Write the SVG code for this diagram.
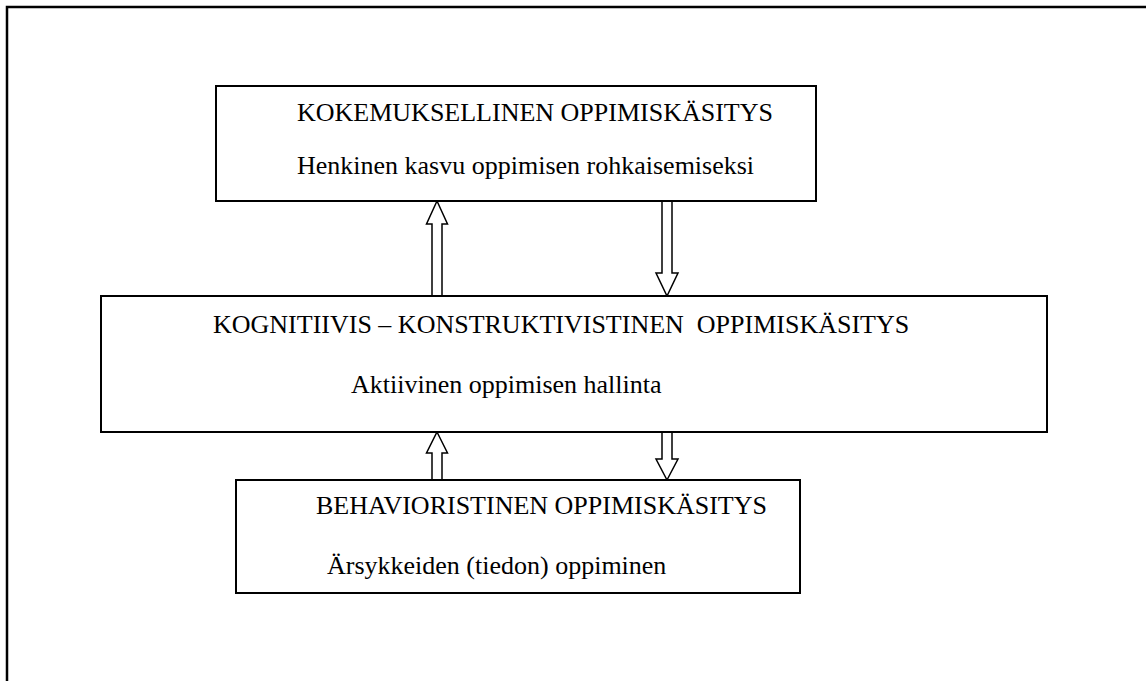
<svg xmlns="http://www.w3.org/2000/svg" width="1146" height="681" viewBox="0 0 1146 681">
<style>
.box{fill:#fff;stroke:#000;stroke-width:2}
.arr{fill:#fff;stroke:#000;stroke-width:1.5;stroke-linejoin:miter}
.t{font-family:"Liberation Serif","Times New Roman",serif;font-size:26px;fill:#000;white-space:pre}
</style>
<rect width="1146" height="681" fill="#fff"/>
<path d="M7,681 V7 H1146" fill="none" stroke="#000" stroke-width="2.5"/>
<g id="connectors">
<path class="arr" d="M437,201 L447.5,224 L442,224 L442,297 L432,297 L432,224 L426.5,224 Z"/>
<path class="arr" d="M662,201 L672,201 L672,273 L678,273 L667,296 L656,273 L662,273 Z"/>
<path class="arr" d="M437,432 L447.5,453 L442,453 L442,481 L432,481 L432,453 L426.5,453 Z"/>
<path class="arr" d="M662,432 L672,432 L672,459 L678,459 L667,480 L656,459 L662,459 Z"/>
</g>
<g id="kokemuksellinen">
<rect class="box" x="216" y="86" width="600" height="115"/>
<text class="t" x="297" y="121">KOKEMUKSELLINEN OPPIMISKÄSITYS</text>
<text class="t" x="297" y="174">Henkinen kasvu oppimisen rohkaisemiseksi</text>
</g>
<g id="kognitiivis">
<rect class="box" x="101" y="296" width="946" height="136"/>
<text class="t" x="213" y="333" xml:space="preserve">KOGNITIIVIS – KONSTRUKTIVISTINEN  OPPIMISKÄSITYS</text>
<text class="t" x="351" y="393">Aktiivinen oppimisen hallinta</text>
</g>
<g id="behavioristinen">
<rect class="box" x="236" y="480" width="564" height="113"/>
<text class="t" x="316" y="514">BEHAVIORISTINEN OPPIMISKÄSITYS</text>
<text class="t" x="327" y="574">Ärsykkeiden (tiedon) oppiminen</text>
</g>
</svg>
